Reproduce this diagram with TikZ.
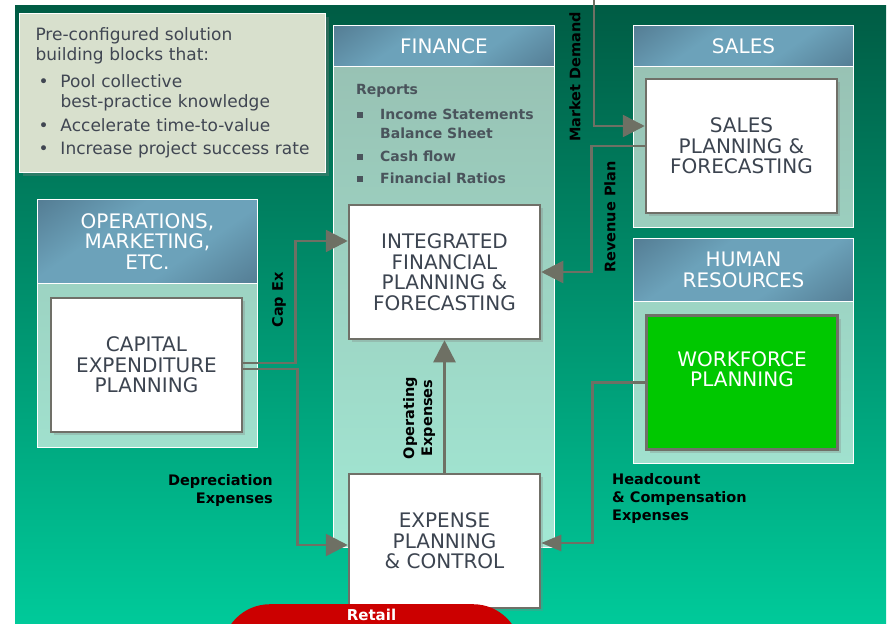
\documentclass[tikz,border=0pt]{standalone}
\usepackage{fontspec}
\setmainfont{DejaVu Sans}
\usetikzlibrary{arrows.meta,shadows}

\definecolor{bgtop}{HTML}{005C44}
\definecolor{bgbot}{HTML}{00CA9A}
\definecolor{notefill}{HTML}{D8E0CD}
\definecolor{notetext}{HTML}{404652}
\definecolor{reporttext}{HTML}{4A545C}
\definecolor{hddark}{HTML}{44647A}
\definecolor{hdlight}{HTML}{6CA2BA}
\definecolor{bodytop}{HTML}{98C2B4}
\definecolor{bodybot}{HTML}{A2E8D4}
\definecolor{boxline}{HTML}{707068}
\definecolor{boxtext}{HTML}{3C4450}
\definecolor{flowgray}{HTML}{6E7064}
\definecolor{hrgreen}{HTML}{00C800}
\definecolor{retailred}{HTML}{CC0000}

\pgfdeclareverticalshading{headshade}{100bp}{color(0bp)=(hddark); color(38bp)=(hdlight);
  color(62bp)=(hdlight); color(100bp)=(hddark)}

\newcommand{\notebullet}{\makebox[25pt][l]{\hspace{3pt}\textbullet}}
\newcommand{\reportbullet}{\makebox[24pt][l]{\hspace{1pt}\rule[1.5pt]{6pt}{6pt}}}

\begin{document}
\begin{tikzpicture}[x=1pt,y=-1pt,
    headbar/.style={draw=white, line width=1pt, inner sep=0pt, anchor=north west, align=center,
      text=white, font=\fontsize{20}{20.5}\selectfont,
      shading=headshade, shading angle=35},
    panelbody/.style={draw=white, line width=1pt, inner sep=0pt, anchor=north west},
    planbox/.style={draw=boxline, line width=2.5pt, fill=white, minimum width=191pt,
      minimum height=134pt, inner sep=0pt, align=center, text=boxtext,
      font=\fontsize{20}{20.5}\selectfont,
      drop shadow={opacity=.3, shadow xshift=3pt, shadow yshift=-3pt}},
    flow/.style={draw=flowgray, line width=2.6pt, -{Triangle[length=22pt,width=22pt]}},
    flowlabel/.style={inner sep=0pt, text=black, font=\bfseries\fontsize{14.5}{18}\selectfont}]

  \useasboundingbox (0,0) rectangle (887,624);

  % backdrop
  \fill[top color=bgtop, bottom color=bgbot] (15,5) rectangle (886,624);

  % note
  \node[draw=white, line width=1pt, fill=notefill, anchor=north west,
        minimum width=306pt, minimum height=159pt, text width=274pt, inner sep=0pt,
        align=left, text=notetext, font=\fontsize{17}{20}\selectfont,
        drop shadow={opacity=.35, shadow xshift=3pt, shadow yshift=-3pt}] (note) at (19,13)
    {Pre-configured solution\\building blocks that:\\[7pt]
     \notebullet Pool collective\\\hspace*{25pt}best-practice knowledge\\[4pt]
     \notebullet Accelerate time-to-value\\[3pt]
     \notebullet Increase project success rate};

  % panels
  \node[panelbody, minimum width=221pt, minimum height=481pt,
        top color=bodytop, bottom color=bodybot] (finbody) at (333,66) {};
  \node[panelbody, minimum width=220pt, minimum height=161pt,
        top color=bodytop, bottom color=bodybot!33!bodytop] (salesbody) at (633,66) {};
  \node[panelbody, minimum width=220pt, minimum height=164pt,
        top color=bodybot!45!bodytop, bottom color=bodybot!79!bodytop] (opsbody) at (37,283) {};
  \node[panelbody, minimum width=220pt, minimum height=162pt,
        top color=bodybot!49!bodytop, bottom color=bodybot!82!bodytop] (hrbody) at (633,301) {};

  \node[headbar, minimum width=221pt, minimum height=41pt] (finhead) at (333,25) {FINANCE};
  \node[headbar, minimum width=220pt, minimum height=41pt] (saleshead) at (633,25) {SALES};
  \node[headbar, minimum width=220pt, minimum height=84pt] (opshead) at (37,199)
    {OPERATIONS,\\MARKETING,\\ETC.};
  \node[headbar, minimum width=220pt, minimum height=63pt] (hrhead) at (633,238)
    {HUMAN\\RESOURCES};

  \node[anchor=north west, inner sep=0pt, align=left, text=reporttext,
        font=\bfseries\fontsize{14}{19}\selectfont] (reports) at (356,84)
    {Reports\\[6pt]
     \reportbullet Income Statements\\\hspace*{24pt}Balance Sheet\\[4pt]
     \reportbullet Cash flow\\[3pt]
     \reportbullet Financial Ratios};

  % planning blocks
  \node[planbox] (integrated) at (444.5,272) {INTEGRATED\\FINANCIAL\\PLANNING \&\\FORECASTING};
  \node[planbox] (expense)    at (444.5,541) {EXPENSE\\PLANNING\\\& CONTROL};
  \node[planbox] (capital)    at (146.5,365) {CAPITAL\\EXPENDITURE\\PLANNING};
  \node[planbox] (sales)      at (741.5,146) {SALES\\PLANNING \&\\FORECASTING};
  \node[planbox, fill=hrgreen, text=white] (workforce) at (742,382.5) {WORKFORCE\\PLANNING\\\strut};

  % retail
  \node[anchor=north, fill=retailred, rounded corners=48pt, minimum width=299pt,
        text=white, font=\bfseries\fontsize{15}{15}\selectfont,
        inner ysep=5pt, text height=11pt, text depth=100pt] (retail) at (371.5,604) {Retail};

  % flows
  \coordinate (demand) at (594,0);
  \draw[flow] ([yshift=2pt]capital.east) -- ++(52,0) |- ([yshift=31pt]integrated.west);
  \draw[flow] ([yshift=-4pt]capital.east) -- ++(54,0) |- ([yshift=-4pt]expense.west);
  \draw[flow] (expense.north) -- (integrated.south);
  \draw[flow] (sales.west) -- ++(-53,0) |- (integrated.east);
  \draw[flow] (demand) |- ([yshift=20pt]sales.west);
  \draw[flow, -{Triangle[length=20pt,width=16pt]}] (workforce.west) -- ++(-53,0) |- ([yshift=-2pt]expense.east);

  \node[flowlabel, rotate=90] (demandlabel) at (575,77) {Market Demand};
  \node[flowlabel, rotate=90] (revenuelabel) at (610,217) {Revenue Plan};
  \node[flowlabel, rotate=90] (capexlabel) at (279,300) {Cap Ex};
  \node[flowlabel, rotate=90, align=center] (opexlabel) at (419,418) {Operating\\Expenses};
  \node[flowlabel, align=right, anchor=east] (deprlabel) at (273,490) {Depreciation\\Expenses};
  \node[flowlabel, align=left, anchor=west] (headlabel) at (612,498) {Headcount\\\& Compensation\\Expenses};

\end{tikzpicture}
\end{document}
